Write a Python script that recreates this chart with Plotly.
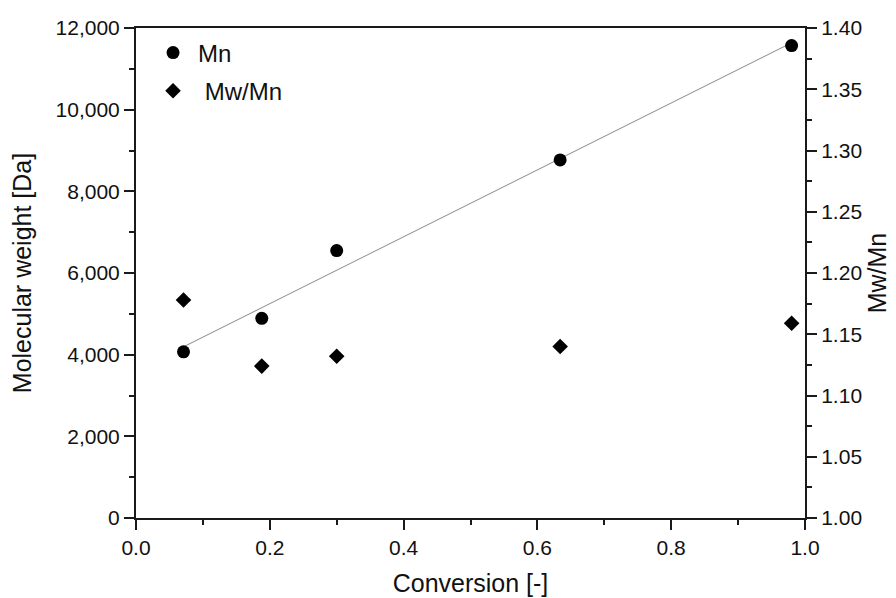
import numpy as np
import plotly.graph_objects as go

conversion = [0.071, 0.188, 0.300, 0.634, 0.980]
mn = [4070, 4890, 6550, 8770, 11570]
mw_mn = [1.178, 1.124, 1.132, 1.140, 1.159]

x_ticks = [0.0, 0.2, 0.4, 0.6, 0.8, 1.0]
y_ticks = [0, 2000, 4000, 6000, 8000, 10000, 12000]
y2_ticks = [1.00, 1.05, 1.10, 1.15, 1.20, 1.25, 1.30, 1.35, 1.40]

# linear fit of Mn vs conversion
slope, intercept = np.polyfit(conversion, mn, 1)
fit_x = [min(conversion), max(conversion)]
fit_y = [slope * v + intercept for v in fit_x]

FONT = "Liberation Sans, Arial, sans-serif"
AX = "#1a1a1a"

fig = go.Figure()
fig.add_trace(go.Scatter(x=fit_x, y=fit_y, mode="lines",
                         line=dict(color="#8a8a8a", width=1),
                         showlegend=False, hoverinfo="skip"))
fig.add_trace(go.Scatter(x=conversion, y=mn, mode="markers", name="Mn",
                         legendgroup="a",
                         marker=dict(symbol="circle", size=13, color="black")))
fig.add_trace(go.Scatter(x=conversion, y=mw_mn, mode="markers", name=" Mw/Mn",
                         legendgroup="b", yaxis="y2",
                         marker=dict(symbol="diamond", size=12, color="black")))

fig.update_layout(
    width=888, height=590,
    paper_bgcolor="white", plot_bgcolor="white",
    margin=dict(l=128, r=91, t=20, b=80),
    font=dict(family=FONT, size=21, color="#111"),
    showlegend=True,
    legend=dict(x=0.018, y=0.995, xanchor="left", yanchor="top",
                bgcolor="rgba(0,0,0,0)", font=dict(size=24),
                tracegroupgap=4, itemwidth=40),
    xaxis=dict(range=[0, 1.0], tickvals=x_ticks, tickformat=".1f",
               automargin=False,
               showgrid=False, zeroline=False,
               showline=True, linecolor=AX, linewidth=2, mirror=True,
               ticks="outside", ticklen=10, tickwidth=2, tickcolor=AX,
               minor=dict(ticks="outside", ticklen=5, tickwidth=2,
                          tickcolor=AX, dtick=0.1, showgrid=False),
               title=dict(text="Conversion [-]", font=dict(size=25), standoff=16)),
    yaxis=dict(range=[0, 12000], tickvals=y_ticks, tickformat=",d",
               automargin=False,
               showgrid=False, zeroline=False,
               showline=True, linecolor=AX, linewidth=2,
               ticks="outside", ticklen=10, tickwidth=2, tickcolor=AX,
               minor=dict(ticks="outside", ticklen=5, tickwidth=2,
                          tickcolor=AX, dtick=1000, showgrid=False),
               title=dict(text="Molecular weight [Da]", font=dict(size=25), standoff=18)),
    yaxis2=dict(range=[1.0, 1.4], tickvals=y2_ticks, tickformat=".2f",
                overlaying="y", side="right", automargin=False,
                showgrid=False, zeroline=False,
                showline=True, linecolor=AX, linewidth=2,
                ticks="outside", ticklen=10, tickwidth=2, tickcolor=AX,
                minor=dict(ticks="outside", ticklen=5, tickwidth=2,
                           tickcolor=AX, dtick=0.025, showgrid=False),
                title=dict(text="Mw/Mn", font=dict(size=25), standoff=7)),
)

fig.write_html("out.html")
